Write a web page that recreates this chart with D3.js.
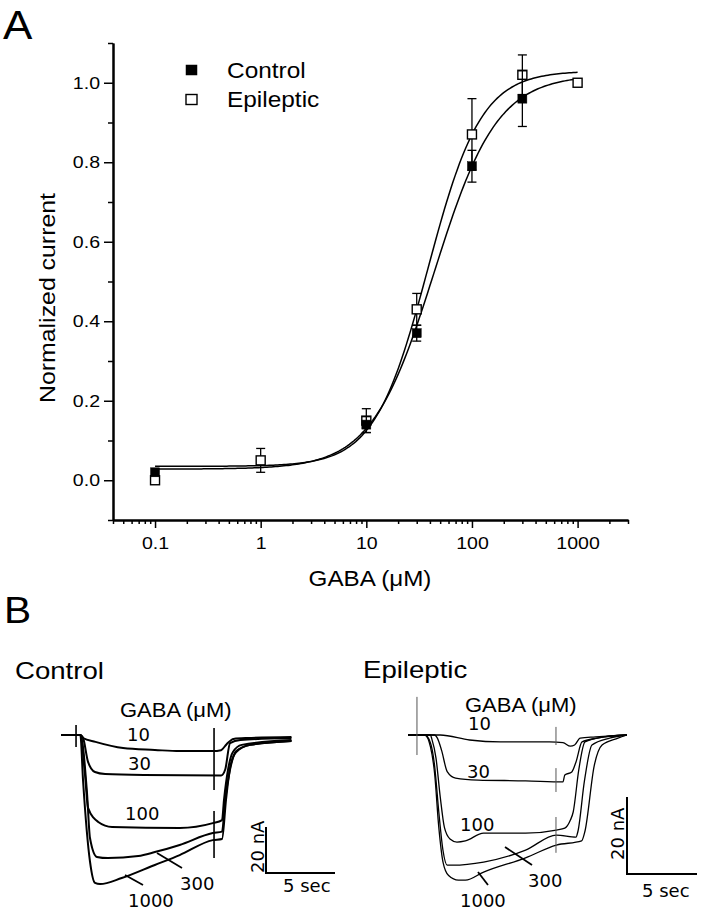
<!DOCTYPE html>
<html><head><meta charset="utf-8">
<script src="https://cdn.jsdelivr.net/npm/d3@7"></script>
<style>body{margin:0;background:#fff} svg{display:block}</style>
</head><body><svg id="c" width="702" height="912"></svg>
<script>
// ---------------- DATA ----------------
// Panel A: dose-response
const controlConc = [0.1, 10, 30, 100, 300];
const controlMean = [0.02, 0.14, 0.37, 0.79, 0.96];
const controlErr  = [0, 0.02, 0.02, 0.04, 0.07];
const epiConc = [0.1, 1, 10, 30, 100, 300, 1000];
const epiMean = [0.0, 0.05, 0.15, 0.43, 0.87, 1.02, 1.00];
const epiErr  = [0, 0.03, 0.03, 0.04, 0.09, 0.05, 0];
// Hill fits: [bottom, top, EC50 (uM), Hill coefficient]
const controlFit = [0.028, 1.02, 44, 1.46];
const epiFit     = [0.035, 1.03, 38.3, 1.72];
const fitRange = [0.1, 1000];
const xTickValues = [0.1, 1, 10, 100, 1000];
const xTickLabels = ["0.1", "1", "10", "100", "1000"];
const yTickValues = [0, 0.2, 0.4, 0.6, 0.8, 1.0];
const yTickLabels = ["0.0", "0.2", "0.4", "0.6", "0.8", "1.0"];
const legendLabels = ["Control", "Epileptic"];

// Panel B: current traces, [time (s), current (nA)]
const traceDoses = ["10", "30", "100", "300", "1000"];
const ctrl10   = [[0,0],[1.4,0],[1.6,-1.3],[2.5,-3],[4.5,-5.7],[6.8,-6.5],[8.6,-7],[11.0,-7],[11.6,-6.6],[12.0,-4],[12.5,-1.7],[13.5,-1.3],[16.7,-0.9]];
const ctrl30   = [[0,0],[1.4,0],[1.6,-1.3],[1.96,-11.7],[2.46,-16.1],[3.2,-17],[6,-17.4],[11.6,-17.6],[11.9,-15],[12.25,-3.5],[13,-2.2],[16.7,-1.3]];
const ctrl100  = [[0,0],[1.4,0],[1.74,-17.4],[1.96,-31.7],[2.7,-37.8],[3.7,-40],[8.6,-40.4],[11.0,-38.3],[11.67,-37],[11.81,-28.3],[12.1,-15.2],[12.46,-7.4],[13.1,-4.3],[16.7,-2.2]];
const ctrl300  = [[0,0],[1.4,0],[1.88,-24.8],[2.1,-44.8],[2.6,-53],[3.4,-53.5],[5.6,-52.6],[6.8,-50.9],[8.6,-47.8],[11.0,-42.6],[11.67,-42],[11.9,-28],[12.25,-15],[12.7,-7],[13.7,-4.3],[16.7,-2.6]];
const ctrl1000 = [[0,0],[1.4,0],[1.6,-20],[2.1,-55],[2.46,-64.3],[2.83,-64.8],[4.4,-62.2],[6.8,-56.5],[8.6,-52.2],[11.0,-45.7],[11.67,-45.2],[11.96,-28],[12.25,-14.3],[12.7,-7.4],[13.7,-4.3],[16.7,-2.6]];
const epi10   = [[0,0],[2.3,0],[4.4,-1.3],[6.6,-1.8],[10.1,-1.8],[11.07,-2],[11.6,-2.9],[11.9,-2.6],[12.3,-0.8],[13.4,-0.5],[15.64,0]];
const epi30   = [[0,0],[1.9,0],[2.1,-0.8],[2.4,-4],[2.8,-9.5],[3.4,-11.2],[5,-11.7],[8.4,-11.9],[11.07,-12.2],[11.2,-10.4],[11.7,-9.6],[12.0,-7],[12.43,-1.8],[13.5,-0.8],[15.64,0]];
const epi100  = [[0,0],[1.6,0],[1.7,-1],[2.0,-6],[2.3,-16],[2.6,-24],[3.0,-27],[3.5,-27.8],[4.1,-27.5],[5.4,-25.5],[8.4,-25.5],[10.6,-24.7],[11.2,-24.2],[11.6,-22.1],[11.8,-20],[12.2,-9],[12.64,-1.8],[14.0,-0.5],[15.64,0]];
const epi300  = [[0,0],[1.2,0],[1.6,-2],[1.9,-8],[2.2,-20],[2.5,-30],[2.8,-33.8],[3.2,-33.8],[5.4,-33],[8.4,-29.9],[10.6,-26],[12.0,-26.5],[12.14,-25],[12.6,-12],[13.14,-2.6],[14.4,-0.8],[15.64,0]];
const epi1000 = [[0,0],[1.2,0],[1.6,-3],[1.9,-10],[2.2,-24],[2.5,-33],[2.9,-36.5],[3.6,-37.7],[4.1,-37.7],[5.4,-35.6],[8.4,-31.9],[10.6,-28.6],[12.4,-27.5],[12.64,-25],[13.3,-8],[13.86,-2.6],[15.0,-0.8],[15.64,0]];
// switching artifacts: [time, top current, bottom current]
const ctrlArtifacts = [[1.09, 4.3, -5.2], [11.09, 3, -23.9], [11.09, -33, -53.5]];
const epiArtifacts  = [[0.64, 9.9, -5.2], [10.57, 2.1, -2.6], [10.57, -8.6, -14.8], [10.57, -21.3, -30.6]];
const scaleBarTime = 5, scaleBarCurrent = 20;

// ---------------- DRAW ----------------
const svg = d3.select("#c");
const SANS = "'Liberation Sans', Arial, sans-serif";
const VER = "'DejaVu Sans', Verdana, sans-serif";
function label(g, x, y, str, o) {
  return g.append("text")
    .attr("transform", `translate(${x},${y}) rotate(${o.rotate||0}) scale(${o.sx||1},1)`)
    .attr("font-family", o.family || SANS).attr("font-size", o.size)
    .attr("text-anchor", o.anchor || "start").attr("fill", "#000").text(str);
}

// ---- Panel A ----
const x = d3.scaleLog().domain([0.04, 3000]).range([113, 628]);
const y = d3.scaleLinear().domain([-0.1, 1.1]).range([520, 43]);
const minorX = x.ticks().filter(v => !xTickValues.some(t => Math.abs(t - v) < 1e-9));
const minorY = d3.range(-1, 12).map(i => i / 10).filter(v => !yTickValues.some(t => Math.abs(t - v) < 1e-9));

function styleAxis(g, w) {
  g.selectAll("path.domain").attr("stroke", "#000").attr("stroke-width", 2);
  g.selectAll(".tick line").attr("stroke", "#000").attr("stroke-width", w);
}
const gxm = svg.append("g").attr("transform", "translate(0,520)")
  .call(d3.axisBottom(x).tickValues(minorX).tickSize(4).tickFormat("").tickSizeOuter(0));
styleAxis(gxm, 1.5);
const gx = svg.append("g").attr("transform", "translate(0,520)")
  .call(d3.axisBottom(x).tickValues(xTickValues).tickSize(8).tickPadding(9)
    .tickFormat((d, i) => xTickLabels[i]).tickSizeOuter(0));
styleAxis(gx, 1.5);
gx.selectAll(".tick text").attr("font-family", SANS).attr("font-size", 17).attr("fill", "#000")
  .attr("transform", "scale(1.15,1)");

const gym = svg.append("g").attr("transform", "translate(113,0)")
  .call(d3.axisLeft(y).tickValues(minorY).tickSize(5).tickFormat("").tickSizeOuter(0));
styleAxis(gym, 1.5);
const gy = svg.append("g").attr("transform", "translate(113,0)")
  .call(d3.axisLeft(y).tickValues(yTickValues).tickSize(9).tickPadding(4)
    .tickFormat((d, i) => yTickLabels[i]).tickSizeOuter(0));
styleAxis(gy, 1.5);
gy.selectAll(".tick text").attr("font-family", SANS).attr("font-size", 17).attr("fill", "#000")
  .attr("x", -13 / 1.15).attr("transform", "scale(1.15,1)");

// fit curves
function hill(p, c) { return p[0] + (p[1] - p[0]) / (1 + Math.pow(p[2] / c, p[3])); }
const lx = d3.scaleLog().domain([0, 200]).range(fitRange);
const samples = d3.range(0, 201).map(i => lx.invert ? Math.pow(10, Math.log10(fitRange[0]) + i / 200 * (Math.log10(fitRange[1]) - Math.log10(fitRange[0]))) : 0);
const line = d3.line().x(d => x(d[0])).y(d => y(d[1]));
[controlFit, epiFit].forEach(p => {
  svg.append("path").attr("d", line(samples.map(c => [c, hill(p, c)])))
    .attr("fill", "none").attr("stroke", "#000").attr("stroke-width", 1.5);
});

// error bars and markers
function series(conc, mean, err, filled) {
  const g = svg.append("g");
  conc.forEach((c, i) => {
    if (err[i] > 0) {
      const cx = x(c), y1 = y(mean[i] + err[i]), y2 = y(mean[i] - err[i]);
      g.append("line").attr("x1", cx).attr("x2", cx).attr("y1", y1).attr("y2", y2).attr("stroke", "#000").attr("stroke-width", 1.3);
      [y1, y2].forEach(yy => g.append("line").attr("x1", cx - 4.5).attr("x2", cx + 4.5).attr("y1", yy).attr("y2", yy).attr("stroke", "#000").attr("stroke-width", 1.3));
    }
  });
  conc.forEach((c, i) => {
    g.append("rect").attr("x", x(c) - 4.5).attr("y", y(mean[i]) - 4.5).attr("width", 9).attr("height", 9)
      .attr("fill", filled ? "#000" : "#fff").attr("stroke", "#000").attr("stroke-width", filled ? 0.5 : 1.4);
  });
}
series(epiConc, epiMean, epiErr, false);
series(controlConc, controlMean, controlErr, true);

// legend
const leg = svg.append("g");
legendLabels.forEach((t, i) => {
  const cy = 70 + i * 29.5;
  leg.append("rect").attr("x", 186).attr("y", cy - 5).attr("width", 11).attr("height", 10)
    .attr("fill", i === 0 ? "#000" : "#fff").attr("stroke", "#000").attr("stroke-width", i === 0 ? 0.5 : 1.4);
  label(leg, 227, cy + 7.5, t, { size: 22, sx: 1.11 });
});

// titles
label(svg, 3, 39, "A", { size: 40, sx: 1.1 });
label(svg, 370, 586, "GABA (\u03BCM)", { size: 22, sx: 1.1, anchor: "middle" });
label(svg, 55, 298, "Normalized current", { size: 22, sx: 1.13, anchor: "middle", rotate: -90 });

// ---- Panel B ----
label(svg, 4, 623, "B", { size: 37, sx: 1.1 });
const panels = [
  { title: "Control", tx: 15, ty: 679, gx: 120, gy: 717, traces: [ctrl10, ctrl30, ctrl100, ctrl300, ctrl1000],
    art: ctrlArtifacts, sx: d3.scaleLinear().domain([0, 5]).range([61, 130]),
    sy: d3.scaleLinear().domain([0, -20]).range([735, 781]), lw: 2, artColor: "#000", artW: 1.6,
    labels: [[127, 741], [128, 770], [125, 820], [180, 890], [128, 907]],
    leaders: [null, null, null, [157, 853, 182, 868], [125, 875, 143, 885]],
    bar: [266, 873], barText: [264, 873], secText: [283, 892] },
  { title: "Epileptic", tx: 363, ty: 678, gx: 465, gy: 712, traces: [epi10, epi30, epi100, epi300, epi1000],
    art: epiArtifacts, sx: d3.scaleLinear().domain([0, 5]).range([408, 478]),
    sy: d3.scaleLinear().domain([0, -20]).range([735, 812]), lw: 1.3, artColor: "#555", artW: 1,
    labels: [[468, 730], [467, 778], [460, 831], [528, 887], [460, 907]],
    leaders: [null, null, null, [505, 847, 532, 865], [478, 872, 488, 885]],
    bar: [627, 874], barText: [624, 860], secText: [642, 897] }
];
panels.forEach(P => {
  const g = svg.append("g");
  label(g, P.tx, P.ty, P.title, { size: 23, sx: 1.2 });
  label(g, P.gx, P.gy, "GABA (\u03BCM)", { size: 20, sx: 1.1 });
  const ln = d3.line().x(d => P.sx(d[0])).y(d => P.sy(d[1])).curve(d3.curveMonotoneX);
  P.traces.forEach(tr => g.append("path").attr("d", ln(tr)).attr("fill", "none")
    .attr("stroke", "#000").attr("stroke-width", P.lw).attr("stroke-linejoin", "round"));
  P.art.forEach(a => g.append("line").attr("x1", P.sx(a[0])).attr("x2", P.sx(a[0]))
    .attr("y1", P.sy(a[1])).attr("y2", P.sy(a[2])).attr("stroke", P.artColor).attr("stroke-width", P.artW));
  traceDoses.forEach((d, i) => {
    label(g, P.labels[i][0], P.labels[i][1], d, { size: 18, family: VER });
    const L = P.leaders[i];
    if (L) g.append("line").attr("x1", L[0]).attr("y1", L[1]).attr("x2", L[2]).attr("y2", L[3])
      .attr("stroke", "#000").attr("stroke-width", 1.8);
  });
  // scale bar
  const w = P.sx(scaleBarTime) - P.sx(0), h = P.sy(-scaleBarCurrent) - P.sy(0);
  const [bx, by] = P.bar;
  g.append("path").attr("d", `M${bx},${by - h}V${by}H${bx + w}`).attr("fill", "none")
    .attr("stroke", "#000").attr("stroke-width", 2);
  label(g, P.barText[0], P.barText[1], scaleBarCurrent + " nA", { size: 18, family: VER, rotate: -90 });
  label(g, P.secText[0], P.secText[1], scaleBarTime + " sec", { size: 18, family: VER });
});
</script></body></html>
